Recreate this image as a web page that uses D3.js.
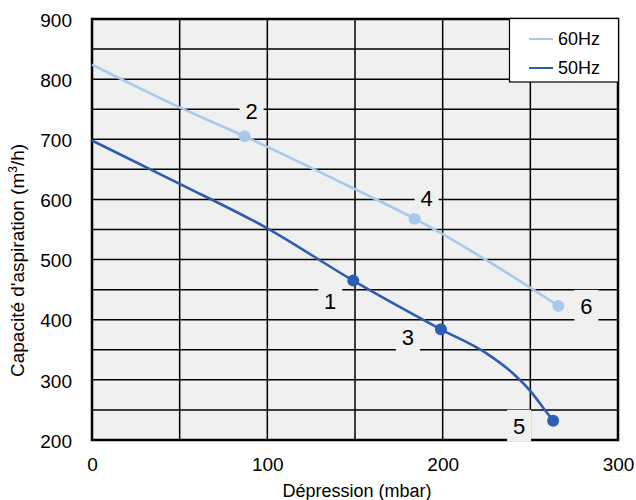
<!DOCTYPE html>
<html>
<head>
<meta charset="utf-8">
<script src="https://cdn.jsdelivr.net/npm/d3@7/dist/d3.min.js"></script>
<style>
html,body{margin:0;padding:0;background:#fff;}
svg text{font-family:"Liberation Sans",Arial,sans-serif;fill:#000;}
</style>
</head>
<body>
<svg id="chart" width="636" height="500"></svg>
<script>
// Data
const curve60X = [0, 50, 87, 150, 184, 230, 266];
const curve60Y = [824, 753, 705, 617, 568, 490, 423];
const curve50X = [0, 50, 100, 149, 199, 225, 240, 251, 257, 263];
const curve50Y = [698, 626, 552, 465, 384, 344, 311, 278, 255, 232];
const pointLabels = ["1", "2", "3", "4", "5", "6"];
const pointX = [149, 87, 199, 184, 263, 266];
const pointY = [465, 705, 384, 568, 232, 423];
const pointSeries = ["50Hz", "60Hz", "50Hz", "60Hz", "50Hz", "60Hz"];
const xTicks = [0, 100, 200, 300];
const yTicks = [200, 300, 400, 500, 600, 700, 800, 900];
const legendNames = ["60Hz", "50Hz"];
const colors = {"60Hz": "#a9c9ec", "50Hz": "#2b5eb0"};

const margin = {left: 92, top: 19, right: 618, bottom: 440};
const svg = d3.select("#chart");
const x = d3.scaleLinear().domain([0, 300]).range([margin.left, margin.right]);
const y = d3.scaleLinear().domain([200, 900]).range([margin.bottom, margin.top]);
const FONT = '"Liberation Sans",Arial,sans-serif';

// background
svg.append("rect").attr("x", margin.left).attr("y", margin.top)
  .attr("width", margin.right - margin.left).attr("height", margin.bottom - margin.top)
  .attr("fill", "#f0f0f0");

// grid
const gx = d3.range(0, 301, 50), gy = d3.range(200, 901, 50);
svg.append("g").selectAll("line").data(gx).join("line")
  .attr("x1", d => x(d)).attr("x2", d => x(d)).attr("y1", margin.top).attr("y2", margin.bottom)
  .attr("stroke", "#000").attr("stroke-width", 1.5);
svg.append("g").selectAll("line").data(gy).join("line")
  .attr("y1", d => y(d)).attr("y2", d => y(d)).attr("x1", margin.left).attr("x2", margin.right)
  .attr("stroke", "#000").attr("stroke-width", 1.5);
// frame
svg.append("rect").attr("x", margin.left).attr("y", margin.top)
  .attr("width", margin.right - margin.left).attr("height", margin.bottom - margin.top)
  .attr("fill", "none").attr("stroke", "#000").attr("stroke-width", 2.5);

// axes (text only)
const xAxis = d3.axisBottom(x).tickValues(xTicks).tickSize(0).tickPadding(0);
const gxA = svg.append("g").attr("transform", `translate(0,471)`).call(xAxis);
gxA.select(".domain").remove();
gxA.selectAll("text").attr("font-size", 19).attr("dy", 0).attr("y", 0)
  .style("font-family", FONT).attr("fill", "#000");
const yAxis = d3.axisLeft(y).tickValues(yTicks).tickSize(0).tickPadding(0);
const gyA = svg.append("g").attr("transform", `translate(72,0)`).call(yAxis);
gyA.select(".domain").remove();
gyA.selectAll("text").attr("font-size", 19).attr("dy", "0.38em")
  .style("font-family", FONT).attr("fill", "#000");

// axis titles
svg.append("text").attr("x", 357).attr("y", 497)
  .attr("text-anchor", "middle").attr("font-size", 18).text("Dépression (mbar)");
const yt = svg.append("text").attr("transform", `translate(24,377) rotate(-90)`)
  .attr("text-anchor", "start").attr("font-size", 19);
yt.append("tspan").text("Capacité d'aspiration (m");
yt.append("tspan").attr("font-size", 12).attr("dy", -7).text("3");
yt.append("tspan").attr("dy", 7).text("/h)");

// curves
const line = d3.line().x(d => x(d[0])).y(d => y(d[1])).curve(d3.curveMonotoneX);
svg.append("path").datum(d3.zip(curve60X, curve60Y)).attr("d", line)
  .attr("fill", "none").attr("stroke", colors["60Hz"]).attr("stroke-width", 2.6);
svg.append("path").datum(d3.zip(curve50X, curve50Y)).attr("d", line)
  .attr("fill", "none").attr("stroke", colors["50Hz"]).attr("stroke-width", 2.6);

// points
const pts = pointLabels.map((l, i) => ({l, x: pointX[i], y: pointY[i], s: pointSeries[i]}));
svg.append("g").selectAll("circle").data(pts).join("circle")
  .attr("cx", d => x(d.x)).attr("cy", d => y(d.y)).attr("r", 6)
  .attr("fill", d => colors[d.s]);

// point labels with offsets
const offs = {"1": [-23, 20], "2": [7, -25], "3": [-33, 8], "4": [12, -21], "5": [-34, 5], "6": [28, 0]};
const lg = svg.append("g").selectAll("g").data(pts).join("g")
  .attr("transform", d => `translate(${x(d.x) + offs[d.l][0]},${y(d.y) + offs[d.l][1]})`);
lg.append("rect").attr("x", -12).attr("y", -16).attr("width", 24).attr("height", 32).attr("fill", "#f0f0f0");
lg.append("text").attr("text-anchor", "middle").attr("dy", "0.36em").attr("font-size", 22).text(d => d.l);

// legend
const leg = svg.append("g");
leg.append("rect").attr("x", 509.5).attr("y", 18.5).attr("width", 109).attr("height", 63.5)
  .attr("fill", "#fff").attr("stroke", "#000").attr("stroke-width", 1.2);
legendNames.forEach((n, i) => {
  const yy = 39 + i * 29;
  leg.append("line").attr("x1", 529).attr("x2", 553).attr("y1", yy).attr("y2", yy)
    .attr("stroke", colors[n]).attr("stroke-width", 2);
  leg.append("text").attr("x", 558).attr("y", yy).attr("dy", "0.36em").attr("font-size", 18).text(n);
});
</script>
</body>
</html>
